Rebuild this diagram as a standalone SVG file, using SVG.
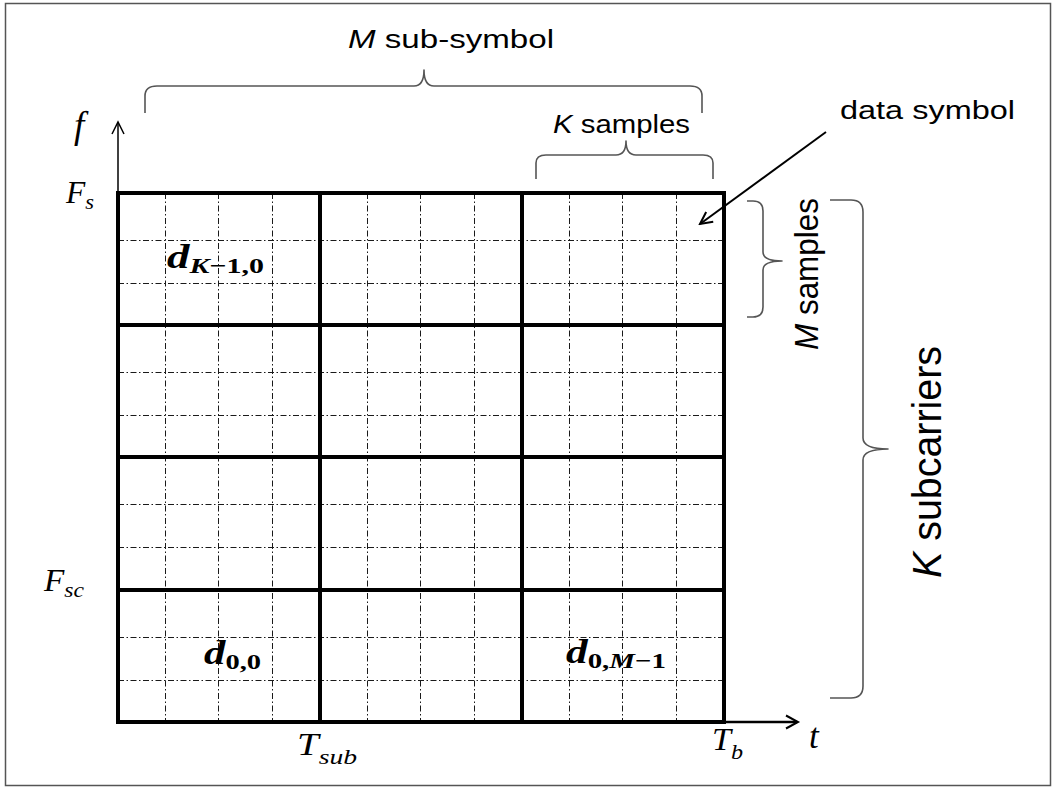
<svg xmlns="http://www.w3.org/2000/svg" width="1055" height="789" viewBox="0 0 1055 789">
<defs>
<style>
.minor{stroke:#1a1a1a;stroke-width:1;stroke-dasharray:6 2.5 1.5 2.5;fill:none}
.major{stroke:#000;stroke-width:4;fill:none;stroke-linecap:square}
.brace{stroke:#555;stroke-width:1.6;fill:none;stroke-linejoin:round}
.sans{font-family:"Liberation Sans",Arial,sans-serif;fill:#000}
.math{font-family:"Liberation Serif","Times New Roman",serif;font-style:italic;fill:#000}
.dlab{font-family:"Liberation Serif","Times New Roman",serif;font-weight:bold;fill:#000}
</style>
<marker id="open" viewBox="0 0 16 16" refX="14" refY="8" markerWidth="16" markerHeight="16" markerUnits="userSpaceOnUse" orient="auto">
<polyline points="2,2 14,8 2,14" fill="none" stroke="#000" stroke-width="2"/>
</marker>
</defs>
<rect x="5.5" y="3.5" width="1045" height="782" fill="#fff" stroke="#555" stroke-width="1.5"/>

<g id="grid">
<g id="minor-lines">
<path class="minor" d="M165.5 193V722M218.5 193V722M272.5 193V722M367.5 193V722M420.5 193V722M474.5 193V722M569.5 193V722M622.5 193V722M676.5 193V722"/>
<path class="minor" d="M118 240.5H724M118 283.5H724M118 372.5H724M118 415.5H724M118 504.5H724M118 547.5H724M118 637.5H724M118 680.5H724"/>
</g>
<g id="major-lines">
<rect class="major" x="118" y="193" width="606" height="529"/>
<path class="major" d="M320 193V722M522 193V722M118 325H724M118 457H724M118 590H724"/>
</g>
</g>

<g id="axes">
<line x1="118" y1="193" x2="118" y2="123" stroke="#000" stroke-width="1.5"/>
<polyline points="112,134 118,122 124,134" fill="none" stroke="#000" stroke-width="1.5"/>
<line x1="724" y1="722" x2="797" y2="722" stroke="#000" stroke-width="2.5"/>
<polyline points="786,715.5 798,722 786,728.5" fill="none" stroke="#000" stroke-width="2"/>
<text class="math" x="74" y="138" font-size="37">f</text>
<text class="math" x="809" y="748" font-size="35">t</text>
</g>

<g id="axis-labels">
<text class="math" x="66" y="203" font-size="31" textLength="28" lengthAdjust="spacingAndGlyphs">F<tspan font-size="22" dy="6">s</tspan></text>
<text class="math" x="44" y="591" font-size="31" textLength="40" lengthAdjust="spacingAndGlyphs">F<tspan font-size="22" dy="6">sc</tspan></text>
<text class="math" x="297" y="755" font-size="31" textLength="60" lengthAdjust="spacingAndGlyphs">T<tspan font-size="22" dy="9">sub</tspan></text>
<text class="math" x="712" y="750" font-size="31" textLength="31" lengthAdjust="spacingAndGlyphs">T<tspan font-size="22" dy="9">b</tspan></text>
</g>

<g id="cell-labels">
<text class="dlab" x="167" y="268" font-size="33" textLength="97" lengthAdjust="spacingAndGlyphs"><tspan font-style="italic">d</tspan><tspan font-size="22" dy="5" font-style="italic">K</tspan><tspan font-size="22">−1,0</tspan></text>
<text class="dlab" x="204" y="664" font-size="33" textLength="57" lengthAdjust="spacingAndGlyphs"><tspan font-style="italic">d</tspan><tspan font-size="22" dy="5">0,0</tspan></text>
<text class="dlab" x="566" y="663" font-size="33" textLength="100" lengthAdjust="spacingAndGlyphs"><tspan font-style="italic">d</tspan><tspan font-size="22" dy="5">0,</tspan><tspan font-size="22" font-style="italic">M</tspan><tspan font-size="22">−1</tspan></text>
</g>

<g id="brace-m-subsymbol">
<path class="brace" d="M145 113V96Q145 86 157 86H414Q424 86 424 70Q424 86 434 86H690Q702 86 702 96V113"/>
<text class="sans" x="348" y="48" font-size="26" textLength="206" lengthAdjust="spacingAndGlyphs"><tspan font-style="italic">M</tspan> sub-symbol</text>
</g>

<g id="brace-k-samples">
<path class="brace" d="M536 179V163Q536 155 546 155H616Q626 155 626 141Q626 155 636 155H703Q713 155 713 163V179"/>
<text class="sans" x="553" y="133" font-size="26" textLength="137" lengthAdjust="spacingAndGlyphs"><tspan font-style="italic">K</tspan> samples</text>
</g>

<g id="brace-m-samples">
<path class="brace" d="M747 201H753Q763 201 763 211V252Q763 261 782 261Q763 261 763 270V307Q763 317 753 317H747"/>
<text class="sans" transform="translate(818,350) rotate(-90)" font-size="34" textLength="152" lengthAdjust="spacingAndGlyphs"><tspan font-style="italic">M</tspan> samples</text>
</g>

<g id="brace-k-subcarriers">
<path class="brace" d="M830 200H851Q863 200 863 212V438Q863 449 888 449Q863 449 863 460V686Q863 698 851 698H830"/>
<text class="sans" transform="translate(941,578) rotate(-90)" font-size="40" textLength="232" lengthAdjust="spacingAndGlyphs"><tspan font-style="italic">K</tspan> subcarriers</text>
</g>

<g id="data-symbol">
<line x1="826" y1="132" x2="700" y2="224" stroke="#000" stroke-width="2" marker-end="url(#open)"/>
<text class="sans" x="840" y="119" font-size="26" textLength="175" lengthAdjust="spacingAndGlyphs">data symbol</text>
</g>
</svg>
